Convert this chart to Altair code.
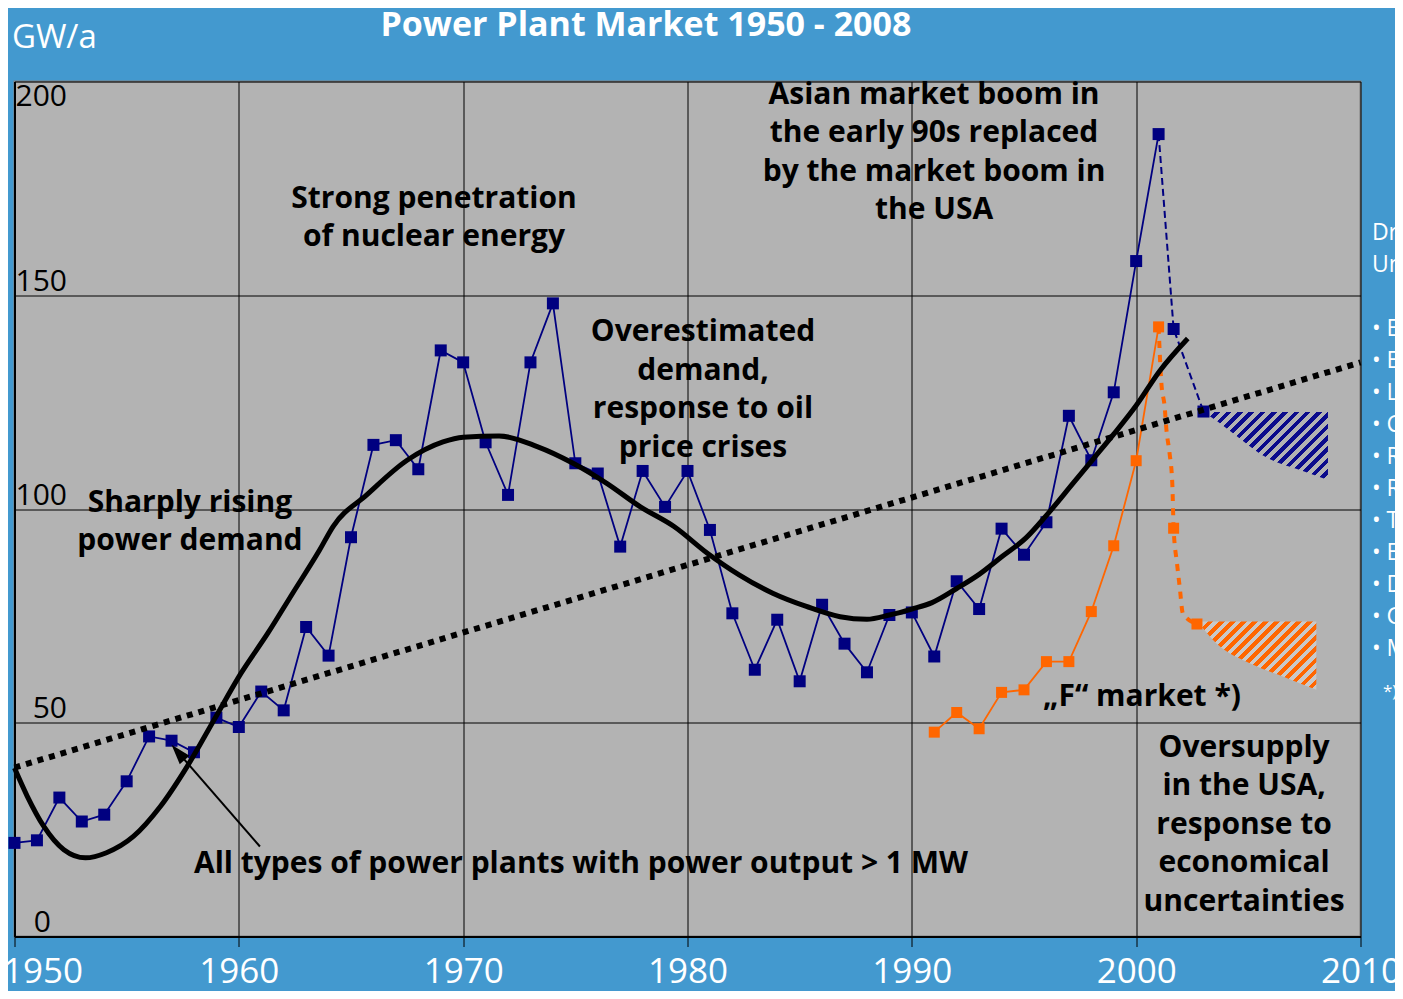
import altair as alt
import numpy as np
import pandas as pd

# ---------------- data ----------------
years = list(range(1950, 2002))
all_plants = [21.9, 22.5, 32.5, 26.9, 28.5, 36.3, 46.8, 45.8, 43.1, 51.2,
              49.0, 57.3, 52.9, 72.4, 65.7, 93.4, 115.0, 116.1, 109.3, 137.1,
              134.3, 115.6, 103.3, 134.3, 148.1, 110.7, 108.3, 91.2, 108.9, 100.5,
              108.9, 95.1, 75.6, 62.4, 74.1, 59.7, 77.6, 68.5, 61.8, 75.2,
              75.8, 65.5, 83.1, 76.6, 95.4, 89.3, 96.9, 121.8, 111.4, 127.3,
              158.0, 187.7]

f_years = list(range(1991, 2002))
f_market = [47.8, 52.4, 48.6, 57.1, 57.7, 64.3, 64.3, 76.0, 91.4, 111.3, 142.6]

fc_all_years = [2001, 2001.67, 2003.0]
fc_all_vals = [187.7, 142.1, 122.8]

fc_f_years = [2001, 2001.12, 2001.27, 2001.35, 2001.49, 2001.61, 2001.67,
              2001.82, 2001.94, 2002.08, 2002.71]
fc_f_vals = [142.6, 129.7, 123.9, 118.5, 113.0, 106.0, 95.5, 87.3, 81.8, 75.6, 73.1]
fc_f_marker_years = [2001.67, 2002.71]
fc_f_marker_vals = [95.5, 73.1]

trend_years = [1950, 2010]
trend_vals = [39.5, 134.3]

smooth_years = [1950.0, 1950.57, 1951.3, 1952.2, 1953.16, 1954.1, 1955.3, 1956.5,
                1957.7, 1958.9, 1960.1, 1961.3, 1962.4, 1963.6, 1964.2, 1965.7,
                1967.5, 1969.1, 1970.0, 1971.6, 1973.3, 1974.9, 1976.4, 1977.9,
                1979.4, 1980.9, 1982.3, 1983.8, 1985.3, 1986.8, 1988.0, 1989.0,
                1990.0, 1990.9, 1992.0, 1993.0, 1994.05, 1995.1, 1996.0, 1997.2,
                1998.1, 1999.0, 2000.0, 2001.05, 2002.3]
smooth_vals = [39.4, 32.8, 25.8, 20.3, 18.4, 19.6, 23.4, 30.4,
               39.8, 50.7, 61.6, 71.0, 80.3, 90.4, 95.9, 103.3,
               111.4, 115.7, 116.8, 117.1, 114.6, 110.7, 106.0, 100.5,
               95.9, 89.6, 84.6, 80.3, 77.2, 74.8, 74.2, 75.2,
               76.6, 78.1, 81.4, 84.7, 89.0, 93.3, 98.5, 106.1,
               111.8, 117.5, 124.2, 132.3, 139.9]

band_all_years = [2003.0, 2003.6, 2004.3, 2005.8, 2007.3, 2008.55]
band_all_upper = [122.7, 122.7, 122.7, 122.7, 122.7, 122.7]
band_all_lower = [122.7, 120.6, 117.8, 112.1, 109.1, 106.8]

band_f_years = [2002.71, 2002.83, 2003.57, 2005.06, 2006.54, 2008.03]
band_f_upper = [73.7, 73.7, 73.7, 73.7, 73.7, 73.7]
band_f_lower = [73.7, 73.0, 68.6, 63.9, 60.8, 57.7]

arrow_tail = (1960.94, 21.05)
arrow_tip = (1957.0, 44.84)

ann_text = ["Strong penetration\nof nuclear energy",
            "Asian market boom in\nthe early 90s replaced\nby the market boom in\nthe USA",
            "Overestimated\ndemand,\nresponse to oil\nprice crises",
            "Sharply rising\npower demand",
            "Oversupply\nin the USA,\nresponse to\neconomical\nuncertainties",
            "\u201eF\u201c market *)"]
ann_year = [1968.70, 1990.99, 1980.69, 1957.82, 2004.81, 2000.26]
ann_gw = [172.6, 196.9, 141.4, 101.5, 44.1, 56.1]   # first text line

note_text = "All types of power plants with power output > 1 MW"
note_year = 1958.0
note_gw = 17.0

title_text = "Power Plant Market 1950 - 2008"
unit_text = "GW/a"
panel_head = ["Dri", "Un"]
panel_bullets = ["\u2022 E", "\u2022 E", "\u2022 L", "\u2022 C", "\u2022 R",
                 "\u2022 R", "\u2022 T", "\u2022 E", "\u2022 D", "\u2022 G", "\u2022 M"]
panel_note = "*)"

x_ticks = [1950, 1960, 1970, 1980, 1990, 2000, 2010]
y_ticks = [0, 50, 100, 150, 200]

# ---------------- styling ----------------
W, H = 1346, 855
FONT = "Open Sans"
BG = "#4399cf"
PLOT_BG = "#b3b3b3"
NAVY = "#000080"
ORANGE = "#ff6600"
PX_YEAR = W / 60.0
PX_GW = H / 200.0


def hatch(xs, upper, lower, stripe, gap, period=11.0):
    w = (max(xs) - min(xs)) * PX_YEAR
    h = (max(upper) - min(lower)) * PX_GW
    r = h / w
    a = (1 + r) / (1 + r * r)
    n = max(1, int(round((w + h) / period)))
    stops = []
    for i in range(n):
        stops += [{"offset": i / n, "color": stripe},
                  {"offset": (i + 0.5) / n, "color": stripe},
                  {"offset": (i + 0.5) / n, "color": gap},
                  {"offset": (i + 1) / n, "color": gap}]
    return {"gradient": "linear", "x1": 0, "y1": 0, "x2": a, "y2": a * r, "stops": stops}


xaxis = alt.Axis(values=x_ticks, title=None, format="d", grid=True, gridColor="black",
                 gridWidth=1, ticks=True, tickSize=10, tickColor="black", tickWidth=1,
                 domain=True, domainColor="black", domainWidth=2, labelColor="white",
                 labelFont=FONT, labelFontSize=35, labelPadding=8, labelFlush=False,
                 labelOverlap=False,
                 labelOffset={"condition": {"test": "datum.value == 1950", "value": 28}, "value": 0})
yaxis = alt.Axis(values=y_ticks, title=None, grid=True, gridColor="black", gridWidth=1,
                 ticks=False, domain=True, domainColor="black", domainWidth=2,
                 labelColor="black", labelFont=FONT, labelFontSize=30, labelAlign="right",
                 labelBaseline="alphabetic", labelOverlap=False, labelFlush=False,
                 labelPadding={"condition": {"test": "datum.value == 0", "value": -36}, "value": -52},
                 labelOffset={"condition": {"test": "datum.value == 200", "value": 24}, "value": -5})

X = alt.X("year:Q", scale=alt.Scale(domain=[1950, 2010], nice=False, zero=False), axis=xaxis)
Y = alt.Y("gw:Q", scale=alt.Scale(domain=[0, 200], nice=False, zero=False), axis=yaxis)


def df(xs, ys):
    return pd.DataFrame({"year": xs, "gw": ys})


# hatched forecast bands
band_all = alt.Chart(pd.DataFrame({"year": band_all_years, "gw": band_all_upper,
                                   "gw2": band_all_lower})).mark_area(
    fill=hatch(band_all_years, band_all_upper, band_all_lower, "#0b0b8c", PLOT_BG),
    interpolate="monotone", strokeWidth=0).encode(x=X, y=Y, y2="gw2:Q")
band_f = alt.Chart(pd.DataFrame({"year": band_f_years, "gw": band_f_upper,
                                 "gw2": band_f_lower})).mark_area(
    fill=hatch(band_f_years, band_f_upper, band_f_lower, ORANGE, "#c9c9c9"),
    interpolate="monotone", strokeWidth=0).encode(x=X, y=Y, y2="gw2:Q")

# all power plants
blue_line = alt.Chart(df(years, all_plants)).mark_line(color=NAVY, strokeWidth=1.8).encode(x=X, y=Y)
blue_pts = alt.Chart(df(years, all_plants)).mark_point(
    shape="square", filled=True, size=144, color=NAVY, opacity=1).encode(x=X, y=Y)
blue_fc = alt.Chart(df(fc_all_years, fc_all_vals)).mark_line(
    color=NAVY, strokeWidth=2, strokeDash=[7, 4]).encode(x=X, y=Y)
blue_fc_pts = alt.Chart(df(fc_all_years[1:], fc_all_vals[1:])).mark_point(
    shape="square", filled=True, size=144, color=NAVY, opacity=1).encode(x=X, y=Y)

# F market
or_line = alt.Chart(df(f_years, f_market)).mark_line(color=ORANGE, strokeWidth=1.8).encode(x=X, y=Y)
or_pts = alt.Chart(df(f_years, f_market)).mark_point(
    shape="square", filled=True, size=121, color=ORANGE, opacity=1).encode(x=X, y=Y)
or_fc = alt.Chart(df(fc_f_years, fc_f_vals)).mark_line(
    color=ORANGE, strokeWidth=4, strokeDash=[7, 7], interpolate="monotone").encode(x=X, y=Y)
or_fc_pts = alt.Chart(df(fc_f_marker_years, fc_f_marker_vals)).mark_point(
    shape="square", filled=True, size=121, color=ORANGE, opacity=1).encode(x=X, y=Y)

# trend and smooth curve
trend = alt.Chart(df(trend_years, trend_vals)).mark_line(
    color="black", strokeWidth=6, strokeDash=[6, 6], strokeCap="butt").encode(x=X, y=Y)
smooth = alt.Chart(df(smooth_years, smooth_vals)).mark_line(
    color="black", strokeWidth=5, interpolate="monotone").encode(x=X, y=Y)

# arrow
dx_px = (arrow_tail[0] - arrow_tip[0]) * PX_YEAR
dy_px = -(arrow_tail[1] - arrow_tip[1]) * PX_GW
length = np.hypot(dx_px, dy_px)
ux, uy = dx_px / length, dy_px / length
head_year = arrow_tip[0] + ux * 10 / PX_YEAR
head_gw = arrow_tip[1] - uy * 10 / PX_GW
head_angle = float(np.degrees(np.arctan2(-ux, uy)) % 360)
arrow_line = alt.Chart(df([arrow_tail[0], head_year], [arrow_tail[1], head_gw])).mark_line(
    color="black", strokeWidth=2).encode(x=X, y=Y)
arrow_head = alt.Chart(df([head_year], [head_gw])).mark_point(
    shape="M0,-1L0.65,1L-0.65,1Z", size=400, filled=True, color="black", opacity=1,
    angle=head_angle).encode(x=X, y=Y)

# annotations in data space
ann = alt.Chart(pd.DataFrame({"year": ann_year, "gw": ann_gw, "label": ann_text})).mark_text(
    font=FONT, fontSize=30, fontWeight="bold", color="black", align="center",
    baseline="middle", lineBreak="\n", lineHeight=38.5).encode(x=X, y=Y, text="label:N")
note = alt.Chart(pd.DataFrame({"year": [note_year], "gw": [note_gw], "label": [note_text]})).mark_text(
    font=FONT, fontSize=30, fontWeight="bold", color="black", align="left",
    baseline="middle").encode(x=X, y=Y, text="label:N")

one = pd.DataFrame({"k": [0]})
title = alt.Chart(one).mark_text(text=title_text, font=FONT, fontSize=34, fontWeight="bold",
                                 color="white", align="center", baseline="middle").encode(
    x=alt.value(631.4), y=alt.value(-56))
unit = alt.Chart(one).mark_text(text=unit_text, font=FONT, fontSize=33, color="white",
                                align="left", baseline="middle").encode(
    x=alt.value(-2.6), y=alt.value(-43.5))
panel_a = alt.Chart(one).mark_text(text=panel_head, font=FONT, fontSize=23, color="white",
                                   align="left", baseline="top", lineHeight=32).encode(
    x=alt.value(1357.4), y=alt.value(140))
panel_b = alt.Chart(one).mark_text(text=panel_bullets, font=FONT, fontSize=23, color="white",
                                   align="left", baseline="top", lineHeight=32).encode(
    x=alt.value(1357.4), y=alt.value(236))
panel_c = alt.Chart(one).mark_text(text=panel_note, font=FONT, fontSize=17, color="white",
                                   align="left", baseline="middle").encode(
    x=alt.value(1368.4), y=alt.value(610.5))

chart = alt.layer(
    band_all, band_f, blue_line, blue_pts, blue_fc, blue_fc_pts,
    or_line, or_pts, or_fc, or_fc_pts, trend, smooth, arrow_line, arrow_head,
    ann, note, title, unit, panel_a, panel_b, panel_c
).properties(
    width=W, height=H,
    padding={"left": 6.5, "top": 73.5, "right": 34, "bottom": 54.5},
    autosize=alt.AutoSizeParams(type="none")
).configure(background=BG).configure_view(fill=PLOT_BG, stroke="#808080", strokeWidth=2)

chart.save("out.html", embed_options={"renderer": "svg", "actions": False})
